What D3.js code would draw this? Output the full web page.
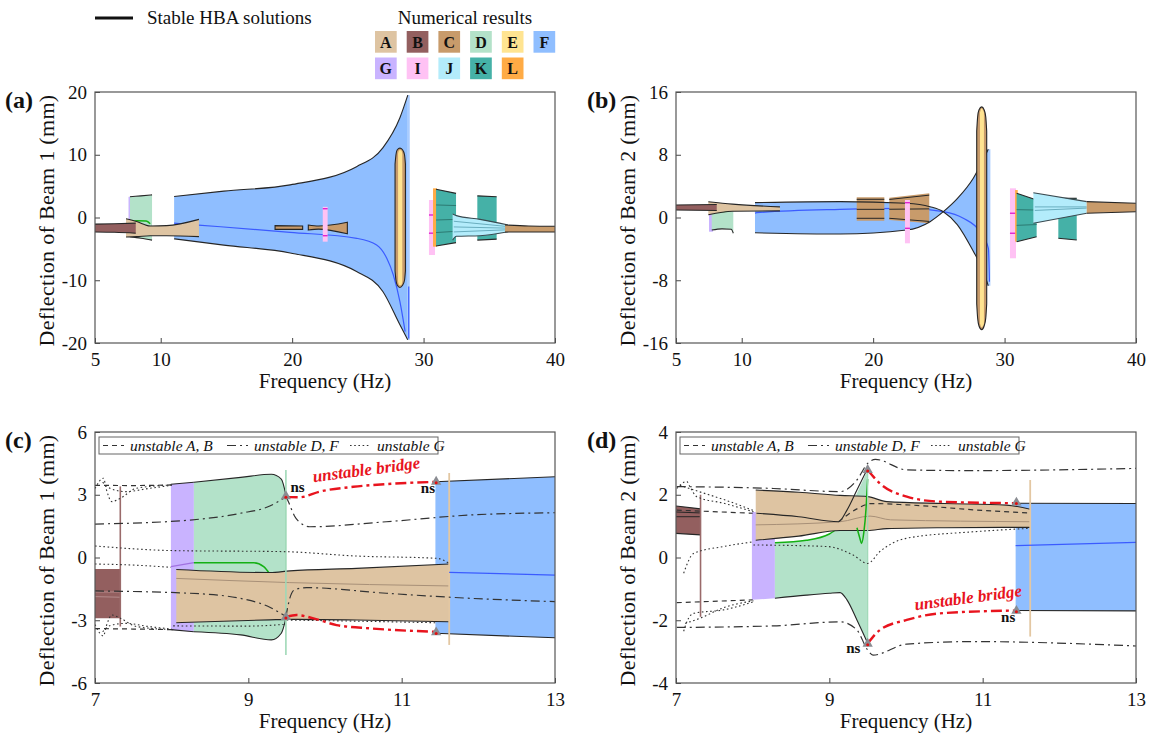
<!DOCTYPE html>
<html>
<head>
<meta charset="utf-8">
<script src="https://cdn.jsdelivr.net/npm/d3@7"></script>
<style>
  body { margin: 0; background: #fff; }
  svg { display: block; }
  text { font-family: "Liberation Serif", "DejaVu Serif", serif; fill: #111; }
</style>
</head>
<body>
<svg id="fig" width="1158" height="735"></svg>
<script>
// ---------- legend categories ----------
const resultKeys = ["A", "B", "C", "D", "E", "F", "G", "I", "J", "K", "L"];
const resultColors = {
  A: "#dec4a2", B: "#935f5f", C: "#c89b6b", D: "#b3e2c9", E: "#ffe491", F: "#8fbeff",
  G: "#c9b3ff", I: "#ffc2f4", J: "#b3ecfb", K: "#45b1a7", L: "#ffab45"
};

// ---------- axis ticks ----------
const wideFreqTicks = [5, 10, 20, 30, 40];
const zoomFreqTicks = [7, 9, 11, 13];
const beam1WideTicks = [-20, -10, 0, 10, 20];
const beam2WideTicks = [-16, -8, 0, 8, 16];
const beam1ZoomTicks = [-6, -3, 0, 3, 6];
const beam2ZoomTicks = [-4, -2, 0, 2, 4];

// ---------- (a) beam 1, 5-40 Hz : [freq, low, high] ----------
const aBandB = [[5, -2.3, -1.05], [6.5, -2.35, -1.0], [8.1, -2.5, -0.9]];
const aBandG = [[7.55, -3.1, 3.3], [7.75, -3.1, 3.3]];
const aBandD = [[7.66, -3.05, 3.3], [8.5, -3.3, 3.45], [9.34, -3.6, 3.6]];
const aLineD = [[7.8, -0.6], [8.2, -0.5], [8.9, -0.55], [9.2, -1.0]];
const aBandA = [[7.36, -3.1, -0.2], [8.17, -3.05, -0.65], [9.2, -2.9, -1.35], [10.45, -2.9, -1.3], [12.91, -3.05, -0.3]];
const aBandF = [[11.02, -3.4, 3.35], [14.8, -4.4, 4.2], [19.85, -5.65, 5.2], [24.9, -8.6, 8.1], [26.9, -11.8, 11.1], [28.2, -17.1, 15.9], [28.8, -19.5, 19.5]];
const aStripF = [[28.75, -19.5, 19.5], [28.95, -19.5, 19.5]];
const aLineF = [[11.02, -0.9], [12.87, -1.2], [19.84, -2.36], [24.91, -3.32], [26.43, -4.38], [27.2, -6.5], [27.7, -9.16], [28.2, -13.4], [28.6, -18.2]];
const aBandC1 = [[18.7, -1.9, -1.3], [20.8, -1.9, -1.35]];
const aBandC2 = [[21.23, -2.0, -1.2], [22.0, -1.85, -1.35], [24.2, -2.6, -0.75]];
const aBandI1 = [[22.33, -3.85, 1.7], [22.7, -3.85, 1.7]];
const aMarksI1 = [1.4, -2.9];
const aOvalC = [[27.83, -8.5, 8.5], [27.9, -10, 10], [28.0, -10.8, 10.8], [28.2, -11.15, 11.05], [28.4, -10.8, 10.8], [28.55, -10, 10], [28.62, -8.5, 8.5]];
const aOvalE = [[28.06, -10.2, 10.2], [28.15, -10.8, 10.7], [28.3, -10.8, 10.7], [28.38, -10.2, 10.2]];
const aBandI2 = [[30.41, -5.98, 2.79], [30.87, -5.98, 2.79]];
const aMarksI2 = [0.4, -2.5];
const aBandL = [[30.72, -4.65, 4.65], [31.02, -4.65, 4.65]];
const aBandK1 = [[30.95, -4.55, 4.5], [32.47, -4.0, 3.85]];
const aLinesK1 = [[[30.95, 2.0], [32.47, 1.9]], [[30.95, -0.4], [32.47, -0.3]], [[30.95, -2.4], [32.47, -2.2]]];
const aBandK2 = [[34.09, -3.6, 3.45], [35.56, -3.45, 3.3]];
const aBandJ = [[32.21, -3.6, 0.55], [32.5, -3.0, 0.3], [34.3, -2.9, -0.3], [36.44, -2.26, -1.2]];
const aLinesJ = [[[32.3, -0.6], [36.44, -1.45]], [[32.3, -1.5], [36.44, -1.7]], [[32.3, -2.3], [36.44, -1.95]]];
const aBandCend = [[36.2, -2.3, -1.2], [38, -2.3, -1.35], [40, -2.3, -1.4]];

// ---------- (b) beam 2, 5-40 Hz ----------
const bBandB = [[5, 0.95, 1.6], [8.1, 0.9, 1.65]];
const bBandA = [[7.46, 0.35, 2.0], [9.3, 0.8, 1.7], [12.91, 0.85, 1.35]];
const bBandG = [[7.51, -1.81, 0.96], [7.82, -1.81, 0.96]];
const bBandD = [[7.72, -1.6, 0.95], [8.5, -1.45, 0.85], [9.2, -1.5, 0.8], [9.36, -2.0, 0.8]];
const bLineD = [[7.8, 0.7], [8.6, 0.75], [9.3, 0.95]];
// two crossing branches of F: [freq, branch1, branch2]
const bBandF = [[11.01, 1.9, -1.95], [17.5, 2.02, -2.1], [22.55, 1.81, -1.6], [24.33, 1.38, -0.53], [25.34, 0.74, 0.74], [26.4, -0.9, 2.4], [27.62, -4.3, 5.0], [28.38, -6.8, 7.4], [28.76, -8.7, 8.7]];
const bStripF = [[28.7, -8.7, 8.7], [28.92, -8.7, 8.7]];
const bLineF = [[11.01, 0.54], [11.14, 0.61], [17.48, 1.04], [22.55, 1.17], [25.34, 0.74], [26.86, -0.1], [28.13, -1.81], [28.77, -3.93], [28.85, -8.2]];
const bBandC1 = [[18.75, -0.41, 2.58], [20.85, -0.41, 2.58]];
const bLinesC1 = [[[18.75, 2.32], [20.85, 2.32]], [[18.75, 1.04], [20.85, 1.04]], [[18.75, -0.1], [20.85, -0.1]]];
const bBandC2 = [[21.23, -0.32, 2.53], [24.27, -0.74, 3.08]];
const bLinesC2 = [[[21.23, 2.3], [24.27, 2.85]], [[21.23, 1.05], [24.27, 1.1]], [[21.23, -0.1], [24.27, -0.5]]];
const bBandI1 = [[22.42, -3.29, 2.23], [22.8, -3.29, 2.23]];
const bMarksI1 = [1.89, -1.38];
const bOvalC = [[27.88, -11, 11], [27.95, -12.8, 12.8], [28.05, -13.8, 13.7], [28.26, -14.3, 14.1], [28.45, -13.8, 13.7], [28.57, -12.8, 12.8], [28.64, -11, 11]];
const bOvalE = [[28.13, -13.5, 13.4], [28.26, -14.0, 13.9], [28.43, -13.5, 13.4]];
const bBandI2 = [[30.41, -5.2, 3.72], [30.87, -5.2, 3.72]];
const bMarksI2 = [0.54, -2.01];
const bBandL = [[30.8, -3.08, 3.5], [31.0, -3.08, 3.5]];
const bBandK1 = [[30.92, -3.08, 3.08], [32.44, -2.45, 2.23]];
const bLinesK1 = [[[30.92, 1.0], [32.44, 0.95]], [[30.92, -1.0], [32.44, -0.9]]];
const bBandK2 = [[34.09, -2.65, 2.45], [35.49, -2.87, 2.45]];
const bBandJ = [[32.19, -0.74, 3.16], [36.25, 0.54, 2.02]];
const bLinesJ = [[[32.3, 0.9], [36.25, 1.2]], [[32.3, 1.35], [36.25, 1.35]]];
const bBandCend = [[36.25, 0.54, 2.02], [40, 0.74, 1.81]];

// ---------- (c) beam 1, 7-13 Hz ----------
const cBandB = [[7, -2.91, -0.55], [7.33, -2.91, -0.55]];
const cLinesB = [[[7, -1.65], [7.33, -1.65]], [[7, -1.87], [7.33, -1.9]]];
const cBandG = [[7.99, -3.45, 3.5], [8.29, -3.55, 3.6]];
const cBandD = [[8.29, -3.55, 3.6], [8.9, -3.7, 3.83], [9.3, -3.94, 3.98], [9.43, -3.62, 3.75], [9.49, -2.91, 2.99]];
const cLineG = [[7.99, -0.44], [8.29, -0.25]];
const cLineD = [[8.29, -0.25], [9.07, -0.25], [9.2, -0.44], [9.28, -0.79]];
const cBandA = [[8.06, -3.12, -0.57], [9.28, -2.98, -0.72], [9.54, -2.96, -0.64], [10.41, -2.99, -0.52], [11.62, -3.07, -0.31]];
const cLineA = [[8.06, -1.0], [9.54, -1.2], [11.62, -1.36]];
const cBandF = [[11.44, -3.62, 3.62], [13, -3.84, 3.86]];
const cLineF = [[11.62, -0.71], [13, -0.84]];
const cUnstableDF = [
  [[7.0, 1.6], [8.24, 1.79], [8.89, 2.11], [9.28, 2.46], [9.48, 2.88]],
  [[9.49, 2.93], [9.53, 2.6], [9.6, 2.0], [9.7, 1.6], [9.8, 1.47], [10.8, 1.71], [11.89, 2.03], [13, 2.14]],
  [[7.0, -1.6], [8.24, -1.71], [8.89, -1.95], [9.28, -2.38], [9.48, -2.8]],
  [[9.49, -2.85], [9.53, -2.1], [9.6, -1.55], [9.76, -1.44], [10.8, -1.71], [11.89, -1.95], [13, -2.11]]
];
const cUnstableAB = [
  [[7.0, 3.45], [7.5, 3.44], [8.0, 3.47]],
  [[7.0, -3.4], [7.5, -3.42], [8.0, -3.45]]
];
const cUnstableG = [
  [[7.0, 0.55], [8.02, 0.33], [9.46, 0.28], [10.41, 0.07], [11.46, -0.04], [11.62, -0.28]],
  [[7.0, -0.31], [7.6, -0.38], [7.99, -0.47]],
  [[7.0, 3.3], [7.11, 3.79], [7.15, 3.23], [7.22, 2.67], [7.33, 2.83], [7.54, 3.31], [8.02, 3.47]],
  [[7.1, 3.6], [7.2, 3.3], [7.4, 3.15], [7.7, 3.3], [8.0, 3.45]],
  [[7.0, -3.2], [7.11, -3.75], [7.15, -3.25], [7.22, -2.75], [7.33, -2.9], [7.54, -3.3], [8.02, -3.45]],
  [[7.1, -3.55], [7.2, -3.25], [7.4, -3.15], [7.7, -3.3], [8.0, -3.42]],
  [[8.02, -3.27], [9.0, -3.28], [9.46, -3.2]],
  [[9.5, -2.99], [10.5, -3.05], [11.46, -3.12]]
];
const cBridgeUp = [[9.5, 2.9], [9.67, 2.88], [9.93, 3.15], [10.37, 3.38], [10.8, 3.51], [11.46, 3.62]];
const cBridgeLo = [[9.5, -2.83], [9.63, -2.75], [9.85, -2.91], [10.15, -3.23], [10.59, -3.39], [11.46, -3.55]];
const cNsPoints = [[9.49, 2.93], [9.49, -2.85], [11.45, 3.62], [11.45, -3.58]];

// ---------- (d) beam 2, 7-13 Hz ----------
const dBandB = [[7, 0.77, 1.64], [7.32, 0.72, 1.55]];
const dLinesB = [[[7, 1.45], [7.32, 1.42]], [[7, 1.3], [7.32, 1.3]]];
const dBandG = [[7.99, -1.35, 1.45], [8.29, -1.3, 1.45]];
const dBandD = [[8.29, -1.3, 0.47], [8.7, -1.2, 0.55], [9.0, -1.14, 0.75], [9.14, -1.12, 0.98], [9.23, -1.35, 1.4], [9.36, -1.99, 2.05], [9.5, -2.73, 2.79]];
const dLineD = [[8.29, 0.47], [8.7, 0.55], [9.0, 0.75], [9.14, 0.98]];
const dLineDspike = [[9.36, 0.95], [9.4, 0.6], [9.42, 0.45], [9.45, 0.8], [9.48, 1.6], [9.5, 2.5]];
const dLineDtop = [[8.05, 1.41], [8.6, 1.3], [9.12, 1.14], [9.23, 1.51], [9.36, 2.15], [9.49, 2.79]];
const dBandA = [[8.04, 0.55, 2.15], [8.6, 0.68, 2.08], [9.14, 0.86, 1.98], [9.5, 0.86, 1.94], [9.75, 0.92, 1.78], [10.5, 0.95, 1.72], [11.31, 0.96, 1.67], [11.62, 0.96, 1.54]];
const dLineA = [[8.04, 1.04], [9.14, 1.14], [9.53, 1.32], [9.8, 1.2], [11.62, 1.14]];
const dBandF = [[11.43, -1.69, 1.73], [13, -1.7, 1.72]];
const dLineF = [[11.43, 0.38], [13, 0.48]];
const dUnstableDF = [
  [[7.01, 2.26], [8.27, 2.2], [9.14, 2.1], [9.36, 2.47], [9.5, 3.0], [9.6, 3.13], [10.01, 2.79], [10.88, 2.77], [13, 2.84]],
  [[7.01, -2.23], [8.27, -2.18], [9.14, -2.05], [9.36, -2.31], [9.5, -2.95], [9.57, -3.11], [10.01, -2.76], [10.88, -2.68], [13, -2.82]]
];
const dUnstableAB = [
  [[7.01, 1.51], [8.0, 1.41]],
  [[7.01, -1.44], [8.0, -1.35]],
  [[9.12, 1.14], [9.36, 1.55], [9.55, 1.72], [10.0, 1.68], [11.0, 1.5], [11.62, 1.42]]
];
const dUnstableG = [
  [[8.01, 0.4], [8.97, 0.35], [9.31, 0.08], [9.5, -0.19], [9.66, 0.19], [10.0, 0.61], [10.88, 0.82], [11.62, 0.93]],
  [[7.1, -0.5], [7.23, 0.13], [7.62, 0.35], [8.01, 0.5]],
  [[7.01, 2.2], [7.14, 2.42], [7.18, 2.26], [7.27, 1.94], [7.62, 1.73], [8.01, 1.46]],
  [[7.05, 2.3], [7.3, 2.1], [7.62, 1.85], [8.01, 1.5]],
  [[7.1, -2.35], [7.15, -2.0], [7.23, -1.78], [7.62, -1.67], [8.01, -1.41]],
  [[7.12, -2.1], [7.3, -1.95], [7.62, -1.6], [8.01, -1.38]]
];
const dBridgeUp = [[9.5, 2.79], [9.66, 2.36], [10.01, 1.94], [10.44, 1.78], [11.44, 1.73]];
const dBridgeLo = [[9.5, -2.74], [9.66, -2.31], [10.01, -1.99], [10.44, -1.78], [11.44, -1.69]];
const dNsPoints = [[9.5, 2.79], [9.5, -2.75], [11.44, 1.75], [11.44, -1.7]];

// ---------- drawing helpers ----------
const svg = d3.select("#fig");
const OUT = "#262626";
const SERIF = '"Liberation Serif", "DejaVu Serif", serif';
let clipId = 0;

function makePanel(o) {
  const x = d3.scaleLinear().domain(o.xDomain).range([o.left, o.right]);
  const y = d3.scaleLinear().domain(o.yDomain).range([o.bottom, o.top]);
  const g = svg.append("g");
  const id = "clip" + (clipId++);
  g.append("clipPath").attr("id", id).append("rect")
    .attr("x", o.left).attr("y", o.top).attr("width", o.right - o.left).attr("height", o.bottom - o.top);
  const plot = g.append("g").attr("clip-path", `url(#${id})`);

  const fmt = d => String(d);
  const xa = g.append("g").attr("transform", `translate(0,${o.bottom})`)
    .call(d3.axisBottom(x).tickValues(o.xTicks).tickSizeInner(-5).tickSizeOuter(0).tickPadding(10).tickFormat(fmt));
  const ya = g.append("g").attr("transform", `translate(${o.left},0)`)
    .call(d3.axisLeft(y).tickValues(o.yTicks).tickSizeInner(-5).tickSizeOuter(0).tickPadding(8).tickFormat(fmt));
  [xa, ya].forEach(a => {
    a.attr("font-family", SERIF);
    a.select(".domain").remove();
    a.selectAll(".tick line").attr("stroke", "#444");
    a.selectAll("text").attr("font-size", 19).style("fill", "#111").style("font-family", SERIF);
  });

  g.append("text").attr("x", (o.left + o.right) / 2).attr("y", o.bottom + 45)
    .attr("text-anchor", "middle").attr("font-size", 21).text("Frequency (Hz)");
  g.append("text").attr("transform", `translate(${o.left - 41},${(o.top + o.bottom) / 2 + 3}) rotate(-90)`)
    .attr("text-anchor", "middle").attr("font-size", 22).attr("letter-spacing", 0.3).text(o.yTitle);
  g.append("text").attr("x", o.labelX).attr("y", o.top + 16)
    .attr("font-size", 24).attr("font-weight", "bold").text(o.label);

  return { g, plot, x, y, o };
}

function frame(p) {
  const o = p.o;
  p.g.append("rect").attr("x", o.left).attr("y", o.top)
    .attr("width", o.right - o.left).attr("height", o.bottom - o.top)
    .attr("fill", "none").attr("stroke", "#555").attr("stroke-width", 1.2);
}

function band(p, data, fill, opts = {}) {
  const curve = opts.curve || d3.curveMonotoneX;
  const gen = d3.area().x(d => p.x(d[0])).y0(d => p.y(d[1])).y1(d => p.y(d[2])).curve(curve);
  p.plot.append("path").attr("d", gen(data)).attr("fill", fill)
    .attr("stroke", opts.closed ? OUT : "none").attr("stroke-width", 1.1);
  const edges = opts.outline === true ? [1, 2] : opts.outline === "top" ? [2] : opts.outline === "bottom" ? [1] : [];
  edges.forEach(i => {
    const lg = d3.line().x(d => p.x(d[0])).y(d => p.y(d[i])).curve(curve);
    p.plot.append("path").attr("d", lg(data)).attr("fill", "none")
      .attr("stroke", opts.outlineColor || OUT).attr("stroke-width", opts.outlineWidth || 1.1);
  });
}

function line(p, data, stroke, sw, dash) {
  const lg = d3.line().x(d => p.x(d[0])).y(d => p.y(d[1])).curve(d3.curveMonotoneX);
  p.plot.append("path").attr("d", lg(data)).attr("fill", "none")
    .attr("stroke", stroke).attr("stroke-width", sw)
    .attr("stroke-dasharray", dash || null).attr("stroke-linecap", "butt");
}

function vline(p, f, v0, v1, stroke, sw) {
  p.plot.append("line").attr("x1", p.x(f)).attr("x2", p.x(f))
    .attr("y1", p.y(v0)).attr("y2", p.y(v1)).attr("stroke", stroke).attr("stroke-width", sw);
}

function marks(p, data, values) {
  const f0 = data[0][0], f1 = data[data.length - 1][0];
  values.forEach(v => {
    p.plot.append("line").attr("x1", p.x(f0)).attr("x2", p.x(f1))
      .attr("y1", p.y(v)).attr("y2", p.y(v)).attr("stroke", "#e224cf").attr("stroke-width", 1.4);
  });
}

function nsMarkers(p, pts) {
  const tri = d3.symbol().type(d3.symbolTriangle).size(46);
  pts.forEach(d => {
    p.g.append("path").attr("d", tri()).attr("fill", "#8a8c92")
      .attr("transform", `translate(${p.x(d[0])},${p.y(d[1])})`);
    p.g.append("circle").attr("cx", p.x(d[0])).attr("cy", p.y(d[1]) + 1).attr("r", 1.5).attr("fill", "#e01010");
  });
}

const DASH_DF = "9,4,2,4";
const DASH_AB = "5,4";
const DASH_G = "1.6,2.6";
const DASH_RED = "11,4,3,4";

function unstableLegend(p) {
  const x0 = p.o.left + 4, y0 = p.o.top + 5;
  const lg = p.g.append("g");
  lg.append("rect").attr("x", x0).attr("y", y0).attr("width", 339).attr("height", 17)
    .attr("fill", "#fff").attr("stroke", "#666").attr("stroke-width", 1);
  const items = [["unstable A, B", DASH_AB, 4], ["unstable D, F", DASH_DF, 128], ["unstable G", DASH_G, 251]];
  items.forEach(([t, dash, off]) => {
    lg.append("line").attr("x1", x0 + off).attr("x2", x0 + off + 21)
      .attr("y1", y0 + 8.5).attr("y2", y0 + 8.5).attr("stroke", "#333").attr("stroke-width", 1.1)
      .attr("stroke-dasharray", dash);
    lg.append("text").attr("x", x0 + off + 27).attr("y", y0 + 13.5).attr("font-size", 15.5)
      .attr("font-style", "italic").text(t);
  });
}

function redText(p, str, f, v, angle) {
  p.g.append("text").attr("transform", `translate(${p.x(f)},${p.y(v)}) rotate(${angle})`)
    .attr("font-size", 17).attr("font-style", "italic").attr("font-weight", "bold")
    .style("fill", "#e8141e").text(str);
}

function nsText(p, f, v) {
  p.g.append("text").attr("x", p.x(f)).attr("y", p.y(v)).attr("font-size", 15)
    .attr("font-weight", "bold").text("ns");
}

// ---------- header legend ----------
const header = svg.append("g");
header.append("line").attr("x1", 95).attr("x2", 133).attr("y1", 18).attr("y2", 18)
  .attr("stroke", "#111").attr("stroke-width", 3);
header.append("text").attr("x", 147).attr("y", 24).attr("font-size", 19).text("Stable HBA solutions");
header.append("text").attr("x", 465).attr("y", 24).attr("text-anchor", "middle").attr("font-size", 19).text("Numerical results");
resultKeys.forEach((k, i) => {
  const col = i % 6, row = Math.floor(i / 6);
  const bx = 375 + col * 31.7, by = 31 + row * 26.5;
  header.append("rect").attr("x", bx).attr("y", by).attr("width", 21.7).attr("height", 21.7).attr("fill", resultColors[k]);
  header.append("text").attr("x", bx + 10.85).attr("y", by + 16.5).attr("text-anchor", "middle")
    .attr("font-size", 16).attr("font-weight", "bold").text(k);
});

// ---------- panel (a) ----------
const pa = makePanel({ xDomain: [5, 40], yDomain: [-20, 20], left: 95, right: 555, top: 92, bottom: 343,
  xTicks: wideFreqTicks, yTicks: beam1WideTicks, yTitle: "Deflection of Beam 1 (mm)", label: "(a)", labelX: 5 });
band(pa, aBandF, resultColors.F);
band(pa, aStripF, "#a9ccff");
band(pa, aBandF, "none", { outline: true });
line(pa, aLineF, "#3b5bff", 1.2);
vline(pa, 28.87, -11, -19.3, "#3b5bff", 1.2);
band(pa, aBandG, resultColors.G);
band(pa, aBandD, resultColors.D, { outline: true });
line(pa, aLineD, "#14b014", 1.5);
band(pa, aBandA, resultColors.A, { outline: true });
band(pa, aBandB, resultColors.B, { outline: true });
band(pa, aBandC1, resultColors.C, { closed: true });
band(pa, aBandC2, resultColors.C, { closed: true });
band(pa, aBandI1, resultColors.I);
marks(pa, aBandI1, aMarksI1);
band(pa, aOvalC, resultColors.C, { closed: true });
band(pa, aOvalE, resultColors.E);
band(pa, aBandI2, resultColors.I);
marks(pa, aBandI2, aMarksI2);
band(pa, aBandL, resultColors.L);
band(pa, aBandK1, resultColors.K, { outline: true });
aLinesK1.forEach(l => line(pa, l, "#2c7a72", 1));
band(pa, aBandK2, resultColors.K, { outline: true });
band(pa, aBandJ, resultColors.J, { outline: true, outlineColor: "#3a4a50" });
aLinesJ.forEach(l => line(pa, l, "#6aaebf", 1));
band(pa, aBandCend, resultColors.C, { outline: true });
frame(pa);

// ---------- panel (b) ----------
const pb = makePanel({ xDomain: [5, 40], yDomain: [-16, 16], left: 676, right: 1136, top: 92, bottom: 343,
  xTicks: wideFreqTicks, yTicks: beam2WideTicks, yTitle: "Deflection of Beam 2 (mm)", label: "(b)", labelX: 587 });
band(pb, bBandF, resultColors.F);
band(pb, bStripF, "#a9ccff");
line(pb, bLineF, "#3b5bff", 1.2);
band(pb, bBandG, resultColors.G);
band(pb, bBandD, resultColors.D, { outline: "bottom" });
line(pb, bLineD, "#14b014", 1.5);
band(pb, bBandA, resultColors.A, { outline: true });
band(pb, bBandB, resultColors.B, { outline: true });
band(pb, bBandC1, resultColors.C);
bLinesC1.forEach(l => line(pb, l, OUT, 1));
band(pb, bBandC2, resultColors.C);
bLinesC2.forEach(l => line(pb, l, OUT, 1));
band(pb, bBandF, "none", { outline: true });
band(pb, bBandI1, resultColors.I);
marks(pb, bBandI1, bMarksI1);
band(pb, bOvalC, resultColors.C, { closed: true });
band(pb, bOvalE, resultColors.E);
band(pb, bBandI2, resultColors.I);
marks(pb, bBandI2, bMarksI2);
band(pb, bBandL, resultColors.L);
band(pb, bBandK1, resultColors.K, { outline: true });
bLinesK1.forEach(l => line(pb, l, "#2c7a72", 1));
band(pb, bBandK2, resultColors.K, { outline: true });
band(pb, bBandJ, resultColors.J, { outline: true, outlineColor: "#3a4a50" });
bLinesJ.forEach(l => line(pb, l, "#6aaebf", 1));
band(pb, bBandCend, resultColors.C, { outline: true });
frame(pb);

// ---------- panel (c) ----------
const pc = makePanel({ xDomain: [7, 13], yDomain: [-6, 6], left: 95, right: 555, top: 432, bottom: 683,
  xTicks: zoomFreqTicks, yTicks: beam1ZoomTicks, yTitle: "Deflection of Beam 1 (mm)", label: "(c)", labelX: 5 });
band(pc, cBandB, resultColors.B);
cLinesB.forEach(l => line(pc, l, "#b58c8c", 1));
vline(pc, 7.33, 3.4, -3.3, "#9a6a6a", 1.6);
band(pc, cBandG, resultColors.G, { outline: true });
band(pc, cBandD, resultColors.D, { outline: true });
line(pc, cLineG, "#a070e0", 1.3);
line(pc, cLineD, "#14b014", 1.5);
band(pc, cBandF, resultColors.F, { outline: true });
band(pc, cBandA, resultColors.A, { outline: true });
line(pc, cLineA, "#a89078", 1);
vline(pc, 9.49, 4.18, -4.66, "#9fd9b7", 1.6);
vline(pc, 11.62, 4.04, -4.18, "#e3c7a2", 1.8);
line(pc, cLineF, "#3b5bff", 1.2);
cUnstableDF.forEach(l => line(pc, l, "#333", 1.2, DASH_DF));
cUnstableAB.forEach(l => line(pc, l, "#333", 1.2, DASH_AB));
cUnstableG.forEach(l => line(pc, l, "#333", 1.1, DASH_G));
line(pc, cBridgeUp, "#e8141e", 2.4, DASH_RED);
line(pc, cBridgeLo, "#e8141e", 2.4, DASH_RED);
nsMarkers(pc, cNsPoints);
nsText(pc, 9.55, 3.12);
nsText(pc, 11.25, 3.08);
redText(pc, "unstable bridge", 9.85, 3.6, -7.5);
frame(pc);
unstableLegend(pc);

// ---------- panel (d) ----------
const pd = makePanel({ xDomain: [7, 13], yDomain: [-4, 4], left: 676, right: 1136, top: 432, bottom: 683,
  xTicks: zoomFreqTicks, yTicks: beam2ZoomTicks, yTitle: "Deflection of Beam 2 (mm)", label: "(d)", labelX: 587 });
band(pd, dBandB, resultColors.B, { outline: true });
dLinesB.forEach(l => line(pd, l, OUT, 1));
vline(pd, 7.32, 2.0, -1.89, "#9a6a6a", 1.6);
band(pd, dBandG, resultColors.G);
band(pd, dBandD, resultColors.D, { outline: "bottom" });
line(pd, dLineD, "#14b014", 1.5);
band(pd, dBandF, resultColors.F, { outline: true });
band(pd, dBandA, resultColors.A, { outline: true });
line(pd, dLineA, "#a89078", 1);
line(pd, dLineDtop, OUT, 1.1);
line(pd, dLineDspike, "#14b014", 1.5);
vline(pd, 9.5, 2.79, -2.73, "#9fd9b7", 1.2);
vline(pd, 11.62, 2.47, -2.52, "#e3c7a2", 1.8);
line(pd, dLineF, "#3b5bff", 1.2);
dUnstableDF.forEach(l => line(pd, l, "#333", 1.2, DASH_DF));
dUnstableAB.forEach(l => line(pd, l, "#333", 1.2, DASH_AB));
dUnstableG.forEach(l => line(pd, l, "#333", 1.1, DASH_G));
line(pd, dBridgeUp, "#e8141e", 2.4, DASH_RED);
line(pd, dBridgeLo, "#e8141e", 2.4, DASH_RED);
nsMarkers(pd, dNsPoints);
nsText(pd, 9.22, -3.05);
nsText(pd, 11.24, -2.05);
redText(pd, "unstable bridge", 10.12, -1.68, -7.5);
frame(pd);
unstableLegend(pd);
</script>
</body>
</html>
